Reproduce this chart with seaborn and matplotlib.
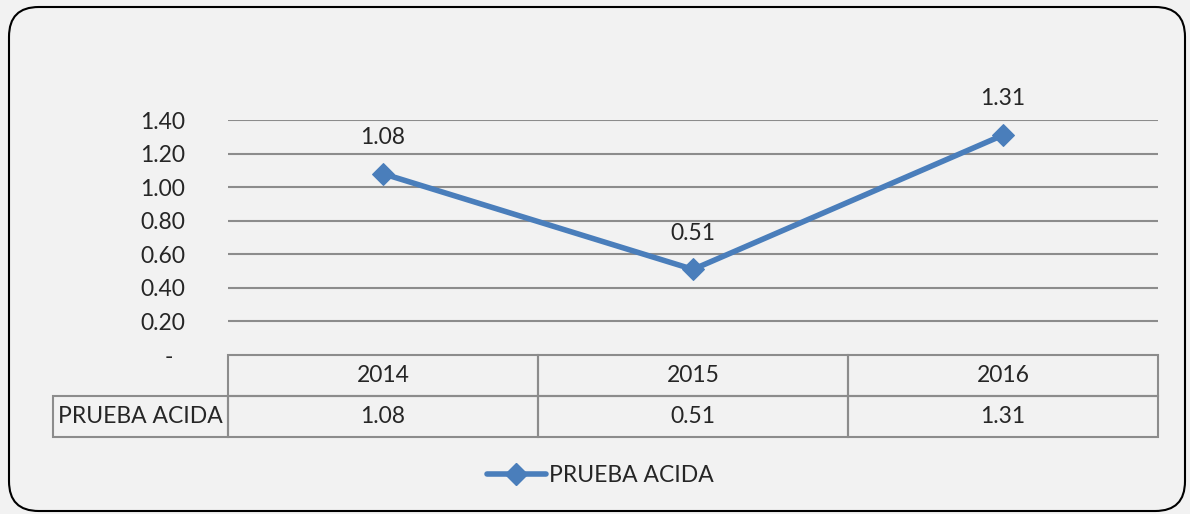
import pandas as pd
import seaborn as sns
import matplotlib.pyplot as plt
from matplotlib.patches import FancyBboxPatch
from matplotlib.lines import Line2D

years = [2014, 2015, 2016]
year_labels = ["2014", "2015", "2016"]
values = [1.08, 0.51, 1.31]
value_labels = ["1.08", "0.51", "1.31"]
series_name = "PRUEBA ACIDA"
yticks = [0, 0.2, 0.4, 0.6, 0.8, 1.0, 1.2, 1.4]
ytick_labels = ["-  ", "0.20", "0.40", "0.60", "0.80", "1.00", "1.20", "1.40"]

df = pd.DataFrame({"year": years, "value": values})

sns.set_style("white")
plt.rcParams["font.family"] = ["Lato", "DejaVu Sans"]

blue = "#4a7ebb"
grey = "#8c8c8c"
fs = 16.5

fig = plt.figure(figsize=(11.9, 5.14), dpi=100)
fig.patch.set_facecolor("#f2f2f2")

# rounded frame around the whole chart
frame = FancyBboxPatch((9 / 1190, 3 / 514), 1176 / 1190, 504 / 514,
                       boxstyle="round,pad=0,rounding_size=0.025",
                       transform=fig.transFigure, facecolor="none",
                       edgecolor="black", linewidth=1.5, zorder=0,
                       mutation_aspect=1190 / 514)
fig.patches.append(frame)

ax = fig.add_axes([228 / 1190, 1 - 355 / 514, 930 / 1190, 235 / 514])
ax.set_facecolor("none")

sns.lineplot(data=df, x="year", y="value", ax=ax, color=blue, linewidth=4,
             marker="D", markersize=11, markeredgecolor=blue, zorder=3)

for x, y, lab in zip(years, values, value_labels):
    ax.annotate(lab, (x, y), xytext=(0, 26), textcoords="offset points",
                ha="center", va="center", fontsize=fs)

ax.set_xlim(2013.5, 2016.5)
ax.set_ylim(0, 1.4)
ax.set_yticks(yticks)
ax.set_yticklabels(ytick_labels, fontsize=fs)
ax.tick_params(axis="y", length=0, pad=31)
ax.set_xticks([])
ax.set_xlabel("")
ax.set_ylabel("")
for s in ax.spines.values():
    s.set_visible(False)
for t in yticks[1:]:
    ax.axhline(t, color=grey, linewidth=1.5, zorder=1)

# data table under the axes (first column holds the series name)
cells = [[""] + year_labels, [series_name] + value_labels]
tab = ax.table(cellText=cells, cellLoc="center", colWidths=[175, 310, 310, 310],
               bbox=[-175 / 930, -82 / 235, 1105 / 930, 82 / 235])
tab.auto_set_font_size(False)
for (r, c), cell in tab.get_celld().items():
    cell.set_facecolor("none")
    cell.set_edgecolor(grey)
    cell.set_linewidth(1.5)
    cell.get_text().set_fontsize(fs)
tab[(0, 0)].visible_edges = ""

# legend
handle = Line2D([], [], color=blue, linewidth=4, marker="D", markersize=11)
fig.legend([handle], [series_name], loc="center", bbox_to_anchor=(600 / 1190, 1 - 476 / 514),
           frameon=False, fontsize=fs, handlelength=2.6, handletextpad=0.1)

fig.savefig("out.png", dpi=100, facecolor=fig.get_facecolor())
